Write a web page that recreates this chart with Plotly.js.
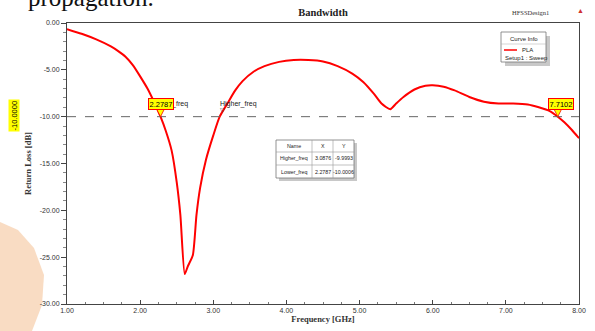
<!DOCTYPE html>
<html>
<head>
<meta charset="utf-8">
<script src="https://cdn.plot.ly/plotly-3.0.1.min.js"></script>
<style>html,body{margin:0;padding:0;background:#fff;}#chart{width:595px;height:331px;}</style>
</head>
<body>
<div id="chart"></div>
<script>
// ---- data ----
const freqGHz = [1.00,1.20,1.40,1.60,1.70,1.80,1.90,2.00,2.10,2.20,2.2787,2.35,2.43,2.50,2.55,2.61,2.65,2.72,2.77,2.82,2.90,3.00,3.0876,3.20,3.30,3.40,3.55,3.70,3.90,4.10,4.30,4.50,4.70,4.90,5.05,5.20,5.30,5.42,5.50,5.60,5.75,5.90,6.00,6.15,6.30,6.50,6.70,6.90,7.10,7.30,7.45,7.60,7.7102,7.80,7.90,8.00];
const returnLossDB = [-0.65,-1.15,-1.75,-2.5,-3.0,-3.6,-4.5,-5.7,-7.0,-8.6,-10.0,-11.5,-13.6,-17.0,-20.5,-26.8,-26.0,-24.8,-20.5,-17.6,-14.6,-12.0,-10.0,-8.5,-7.2,-6.2,-5.2,-4.6,-4.15,-3.95,-3.95,-4.1,-4.6,-5.4,-6.3,-7.6,-8.6,-9.2,-8.6,-7.9,-7.1,-6.7,-6.65,-6.8,-7.2,-7.9,-8.4,-8.6,-8.6,-8.7,-9.0,-9.4,-10.0,-10.6,-11.4,-12.3];
const markerNames = ["Higher_freq","Lower_freq"];
const markerX = [3.0876, 2.2787];
const markerY = [-9.9993, -10.0006];
const refLevel = -10.0;
const edgeMarkerX = 7.7102;
const xTicks = [1,2,3,4,5,6,7,8];
const yTicks = [0,-5,-10,-15,-20,-25,-30];

// ---- geometry helpers (pixel -> paper) ----
const L=67, R=579, T=23, B=304;
const px = x => (x-L)/(R-L);
const py = y => (B-y)/(B-T);

const trace = {
  x: freqGHz, y: returnLossDB, type:'scatter', mode:'lines',
  line:{color:'#ff0000', width:2, shape:'spline', smoothing:0.6}, name:'PLA', showlegend:false, hoverinfo:'skip'
};

const shapes = [];
const ann = [];
const sans = 'Liberation Sans, Arial, sans-serif';
const serif = 'Liberation Serif, Times New Roman, serif';

// reference dashed line
shapes.push({type:'line', xref:'paper', x0:0, x1:1, yref:'y', y0:refLevel, y1:refLevel,
  line:{color:'#666', width:1, dash:'dash'}});

// orange decoration bottom-left
shapes.push({type:'path', xref:'paper', yref:'paper',
  path:`M ${px(0)} ${py(222)} L ${px(18)} ${py(230)} L ${px(34)} ${py(248)} L ${px(44)} ${py(275)} L ${px(42)} ${py(305)} L ${px(32)} ${py(331)} L ${px(0)} ${py(331)} Z`,
  fillcolor:'rgba(244,185,135,0.5)', line:{width:0}, layer:'below'});

// marker flags (triangles pointing at the curve)
function flag(xv, label, boxX0, boxX1){
  const yTop = -(108-T)/((B-T)/30);
  shapes.push({type:'path', xref:'x', yref:'y',
    path:`M ${xv-0.06} ${yTop} L ${xv+0.06} ${yTop} L ${xv} ${refLevel} Z`,
    fillcolor:'#ffff00', line:{color:'#ff0000', width:0.8}});
  ann.push({xref:'paper', yref:'paper', x:px((boxX0+boxX1)/2), y:py(103.5), text:label,
    showarrow:false, font:{family:sans, size:7.5, color:'#000'}, bgcolor:'#ffff00',
    bordercolor:'#ff0000', borderwidth:1, borderpad:0.5, xanchor:'center', yanchor:'middle'});
}
// lower_freq text partly hidden under its flag box
ann.push({xref:'paper', yref:'paper', x:px(151), y:py(104), text:markerNames[1], showarrow:false,
  font:{family:sans, size:7, color:'#222'}, xanchor:'left', yanchor:'middle'});
flag(markerX[1], markerX[1].toFixed(4), 148, 173);
flag(edgeMarkerX, edgeMarkerX.toFixed(4), 548, 573);
ann.push({xref:'paper', yref:'paper', x:px(218), y:py(104), text:markerNames[0], showarrow:false,
  font:{family:sans, size:7, color:'#222'}, xanchor:'left', yanchor:'middle'});
ann.push({xref:'paper', yref:'paper', x:px(222), y:py(110), text:'▽', showarrow:false,
  font:{family:sans, size:6, color:'#444'}, xanchor:'center', yanchor:'middle'});

// -10.0000 level label on left
ann.push({xref:'paper', yref:'paper', x:px(14), y:py(116), text:refLevel.toFixed(4), textangle:-90,
  showarrow:false, font:{family:sans, size:7.5, color:'#000'}, bgcolor:'#ffff00', borderpad:0.5,
  xanchor:'center', yanchor:'middle'});

// data table
const tx = [276,312,333,354], tyR = [140,152,165,178];
shapes.push({type:'rect', xref:'paper', yref:'paper', x0:px(tx[0]+3), x1:px(tx[3]+3), y0:py(tyR[3]+3), y1:py(tyR[0]+3),
  fillcolor:'#c8c8c8', line:{width:0}});
shapes.push({type:'rect', xref:'paper', yref:'paper', x0:px(tx[0]), x1:px(tx[3]), y0:py(tyR[3]), y1:py(tyR[0]),
  fillcolor:'#fff', line:{color:'#777', width:0.8}});
for (let i=1;i<3;i++) shapes.push({type:'line', xref:'paper', yref:'paper', x0:px(tx[i]), x1:px(tx[i]), y0:py(tyR[3]), y1:py(tyR[0]), line:{color:'#999', width:0.6}});
for (let i=1;i<3;i++) shapes.push({type:'line', xref:'paper', yref:'paper', x0:px(tx[0]), x1:px(tx[3]), y0:py(tyR[i]), y1:py(tyR[i]), line:{color:'#999', width:0.6}});
const rows = [["Name","X","Y"]].concat(markerNames.map((n,i)=>[n, markerX[i].toFixed(4), markerY[i].toFixed(4)]));
rows.forEach((r,ri)=>{
  r.forEach((c,ci)=>{
    ann.push({xref:'paper', yref:'paper', x:px((tx[ci]+tx[ci+1])/2), y:py((tyR[ri]+tyR[ri+1])/2), text:c,
      showarrow:false, font:{family:sans, size:5.3, color:'#222'}, xanchor:'center', yanchor:'middle'});
  });
});

// curve info box
shapes.push({type:'rect', xref:'paper', yref:'paper', x0:px(505), x1:px(550), y0:py(66), y1:py(36),
  fillcolor:'#c8c8c8', line:{width:0}});
shapes.push({type:'rect', xref:'paper', yref:'paper', x0:px(501), x1:px(546), y0:py(62), y1:py(32),
  fillcolor:'#fff', line:{color:'#777', width:0.8}});
shapes.push({type:'line', xref:'paper', yref:'paper', x0:px(501), x1:px(546), y0:py(44), y1:py(44), line:{color:'#aaa', width:0.5}});
shapes.push({type:'line', xref:'paper', yref:'paper', x0:px(504), x1:px(517), y0:py(50), y1:py(50), line:{color:'#ff0000', width:1.5}});
ann.push({xref:'paper', yref:'paper', x:px(523.5), y:py(38.5), text:'Curve Info', showarrow:false,
  font:{family:sans, size:6, color:'#222'}, xanchor:'center', yanchor:'middle'});
ann.push({xref:'paper', yref:'paper', x:px(520), y:py(50), text:trace.name, showarrow:false,
  font:{family:sans, size:6, color:'#222'}, xanchor:'left', yanchor:'middle'});
ann.push({xref:'paper', yref:'paper', x:px(503), y:py(57.5), text:'Setup1 : Sweep', showarrow:false,
  font:{family:sans, size:6, color:'#222'}, xanchor:'left', yanchor:'middle'});

// header texts
ann.push({xref:'paper', yref:'paper', x:px(510), y:py(12), text:'HFSSDesign1', showarrow:false,
  font:{family:serif, size:6.5, color:'#333'}, xanchor:'left', yanchor:'middle'});
ann.push({xref:'paper', yref:'paper', x:px(580), y:py(11), text:'▲', showarrow:false,
  font:{family:sans, size:7, color:'#d03030'}, xanchor:'center', yanchor:'middle'});
ann.push({xref:'paper', yref:'paper', x:px(26), y:py(-3), text:'propagation.', showarrow:false,
  font:{family:serif, size:25, color:'#111'}, xanchor:'left', yanchor:'middle'});

const layout = {
  width:595, height:331,
  margin:{l:L, r:595-R, t:T, b:331-B, pad:0},
  paper_bgcolor:'#fff', plot_bgcolor:'#fff',
  title:{text:'<b>Bandwidth</b>', x:0.5, xref:'paper', xanchor:'center', y:1-12/331, yref:'container', yanchor:'middle',
    font:{family:serif, size:10.5, color:'#222'}},
  xaxis:{range:[1,8], tickvals:xTicks, ticktext:xTicks.map(v=>v.toFixed(2)),
    showgrid:false, zeroline:false, showline:true, linecolor:'#444', linewidth:1, mirror:true,
    ticks:'inside', ticklen:4, tickcolor:'#444',
    minor:{dtick:0.25, ticks:'inside', ticklen:2, tickcolor:'#777', showgrid:false},
    tickfont:{family:sans, size:7, color:'#333'},
    title:{text:'<b>Frequency [GHz]</b>', font:{family:serif, size:8.5, color:'#333'}, standoff:2}},
  yaxis:{range:[-30,0], tickvals:yTicks, ticktext:yTicks.map(v=>v.toFixed(2)),
    showgrid:false, zeroline:false, showline:true, linecolor:'#444', linewidth:1, mirror:true,
    ticks:'outside', ticklen:5, tickcolor:'#444',
    minor:{dtick:1, ticks:'outside', ticklen:3, tickcolor:'#888', showgrid:false},
    tickfont:{family:sans, size:7, color:'#333'},
    title:{text:'<b>Return Loss [dB]</b>', font:{family:serif, size:8.5, color:'#333'}, standoff:6}},
  shapes:shapes, annotations:ann, showlegend:false
};

Plotly.newPlot('chart', [trace], layout, {displayModeBar:false, staticPlot:true});
</script>
</body>
</html>
